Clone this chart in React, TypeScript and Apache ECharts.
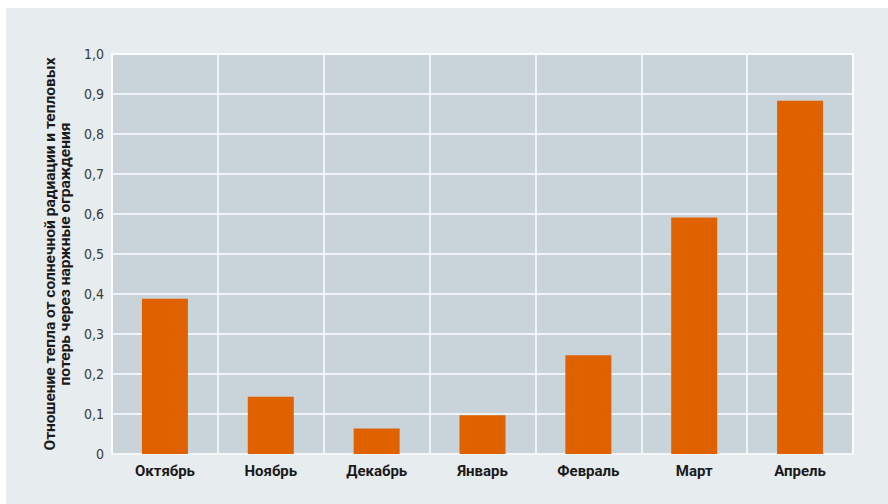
import React, { useEffect, useRef } from "react";
import * as echarts from "echarts";

const categories = ["Октябрь", "Ноябрь", "Декабрь", "Январь", "Февраль", "Март", "Апрель"];
const ratioValues = [0.388, 0.143, 0.064, 0.097, 0.247, 0.591, 0.883];
const yTickValues = [0, 0.1, 0.2, 0.3, 0.4, 0.5, 0.6, 0.7, 0.8, 0.9, 1.0];
const yTickLabels = ["0", "0,1", "0,2", "0,3", "0,4", "0,5", "0,6", "0,7", "0,8", "0,9", "1,0"];
const yAxisTitle = "Отношение тепла от солнечной радиации и тепловых\nпотерь через наржные ограждения";

const condensed = "'Liberation Sans Narrow', 'DejaVu Sans Condensed', 'Roboto', sans-serif";
const boldFont = "'Roboto', 'Liberation Sans', sans-serif";

export default function App() {
  const ref = useRef<HTMLDivElement>(null);
  useEffect(() => {
    if (!ref.current) return;
    const chart = echarts.init(ref.current, undefined, { renderer: "svg" });
    chart.setOption({
      animation: false,
      backgroundColor: "#e7ecef",
      grid: {
        left: 106,
        top: 46,
        width: 741,
        height: 400,
        show: true,
        backgroundColor: "#c8d3da",
        borderColor: "#f4f6f7",
        borderWidth: 2,
      },
      xAxis: {
        type: "category",
        data: categories,
        axisLine: { show: true, lineStyle: { color: "#f4f6f7", width: 2 } },
        axisTick: { show: false },
        splitLine: { show: true, lineStyle: { color: "#ffffff", width: 1.5 } },
        axisLabel: {
          color: "#1a1a1a",
          fontFamily: boldFont,
          fontWeight: "bold",
          fontSize: 15,
          margin: 9,
        },
      },
      yAxis: {
        type: "value",
        min: 0,
        max: 1,
        interval: 0.1,
        axisLine: { show: false },
        axisTick: { show: false },
        splitLine: { show: true, lineStyle: { color: "#ffffff", width: 1.5 } },
        axisLabel: {
          color: "#3a3a3a",
          fontFamily: condensed,
          fontSize: 14,
          margin: 8,
          formatter: (v: number) => {
            const i = yTickValues.findIndex((t) => Math.abs(t - v) < 1e-6);
            return i >= 0 ? yTickLabels[i] : "";
          },
        },
        name: yAxisTitle,
        nameLocation: "middle",
        nameRotate: 90,
        nameGap: 35,
        nameTextStyle: {
          color: "#1a1a1a",
          fontFamily: boldFont,
          fontWeight: "bold",
          fontSize: 15.5,
          lineHeight: 15,
          align: "center",
        },
      },
      series: [
        {
          type: "bar",
          data: ratioValues,
          barWidth: 46,
          itemStyle: { color: "#e06100" },
        },
      ],
    });
    return () => chart.dispose();
  }, []);
  return (
    <div
      ref={ref}
      style={{ position: "fixed", left: 6, top: 8, width: 882, height: 496 }}
    />
  );
}
